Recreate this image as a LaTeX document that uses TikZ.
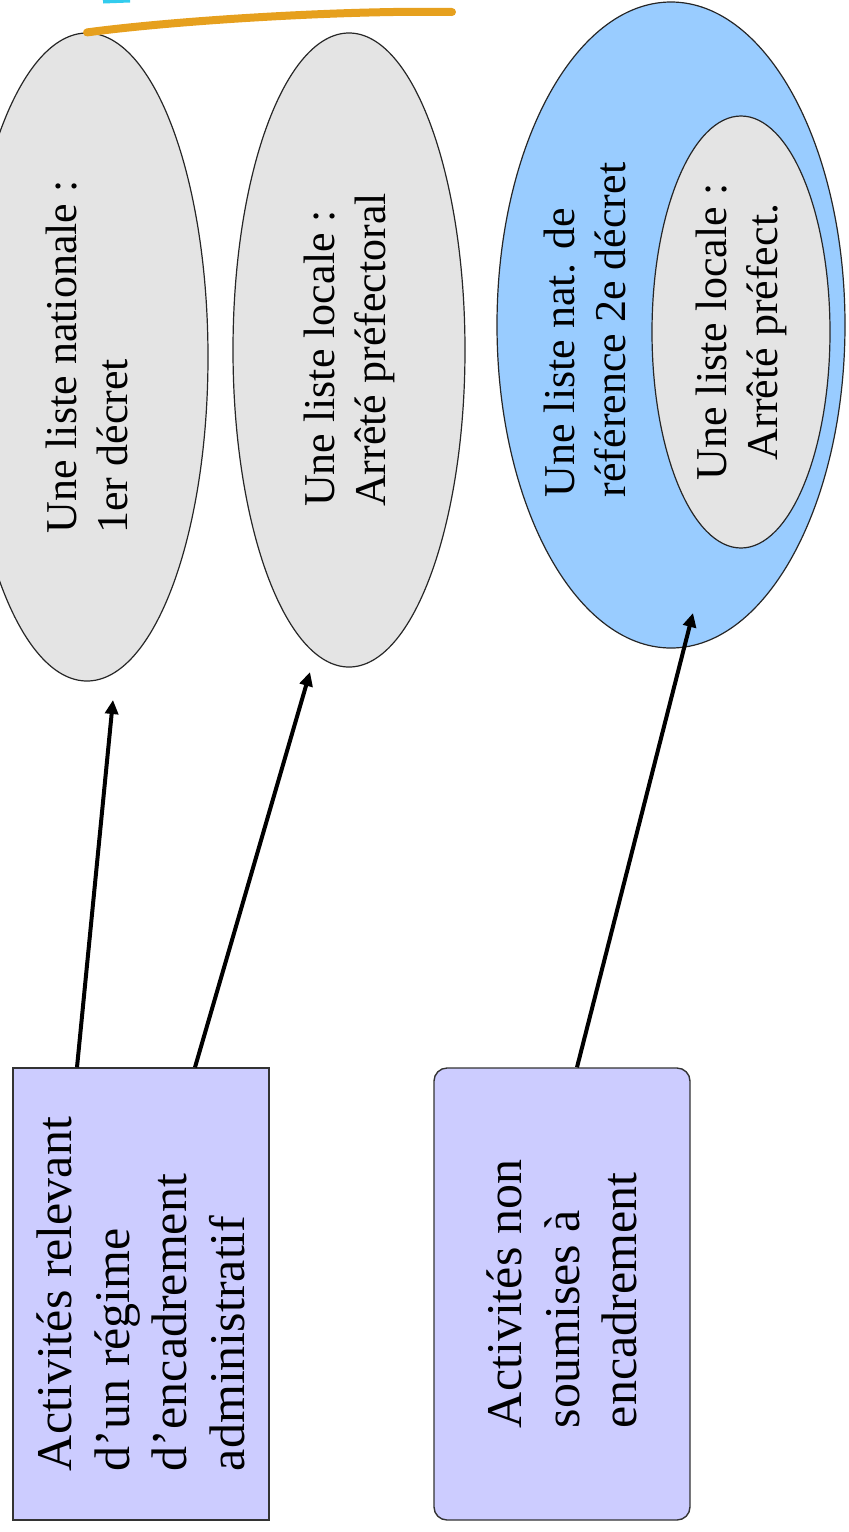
\documentclass[tikz,border=0pt]{standalone}
\usepackage{fontspec}
\setmainfont{Liberation Serif}
\usetikzlibrary{shapes.geometric,arrows.meta}
\definecolor{boxlilac}{HTML}{CCCCFF}
\definecolor{listgray}{HTML}{E4E4E4}
\definecolor{natblue}{HTML}{99CCFF}
\definecolor{arcorange}{HTML}{E6A01E}
\definecolor{topcyan}{HTML}{33CCEE}
\begin{document}
\begin{tikzpicture}[x=0.5pt, y=-0.5pt,
    activ/.style={draw=black!80, line width=0.7pt, fill=boxlilac, rotate=90,
      inner sep=0pt, minimum width=226pt, minimum height=128pt, align=left,
      font=\fontsize{25pt}{28.75pt}\selectfont},
    liste/.style={ellipse, draw=black!85, line width=0.6pt, fill=listgray,
      rotate=90, inner sep=0pt, align=left,
      font=\fontsize{22pt}{25.5pt}\selectfont},
    arr/.style={-{Triangle[length=7pt,width=6.5pt]}, line width=2pt}]
  \useasboundingbox (0,0) rectangle (848,1532);

  % the lists
  \node[liste, minimum width=324pt, minimum height=121pt] (nat1) at (87,357)
    {Une liste nationale :\\1er décret};
  \node[liste, minimum width=317pt, minimum height=116pt] (loc1) at (349,350)
    {Une liste locale :\\Arrêté préfectoral};
  \node[liste, fill=natblue, minimum width=323pt, minimum height=174pt] (ref2) at (671,325) {};
  \node[rotate=90, align=left, font=\fontsize{22pt}{25.5pt}\selectfont] (ref2txt) at (585,330)
    {Une liste nat. de\\référence 2e décret};
  \node[liste, align=center, minimum width=216pt, minimum height=89pt] (loc2) at (741,332)
    {Une liste locale :\\Arrêté préfect.};

  \coordinate (arcend) at (452,12);
  \draw[arcorange, line width=4pt, line cap=round] (nat1.east) .. controls (180,20) and (350,10) .. (arcend);
  \draw[topcyan, line width=2.5pt] (103,1) -- (130,0);

  % the activities
  \node[activ] (activ1) at (141,1294)
    {Activités relevant\\d'un régime\\d'encadrement\\administratif};
  \node[activ, rounded corners=6.5pt] (activ2) at (562,1294)
    {Activités non\\soumises à\\encadrement};

  \coordinate (tipA) at (113,700);
  \coordinate (tipB) at (310,672);
  \coordinate (tipC) at (693,613);
  \draw[arr] ([xshift=-32pt]activ1.east) -- (tipA);
  \draw[arr] ([xshift=27pt]activ1.east) -- (tipB);
  \draw[arr] ([xshift=7.5pt]activ2.east) -- (tipC);
\end{tikzpicture}
\end{document}
